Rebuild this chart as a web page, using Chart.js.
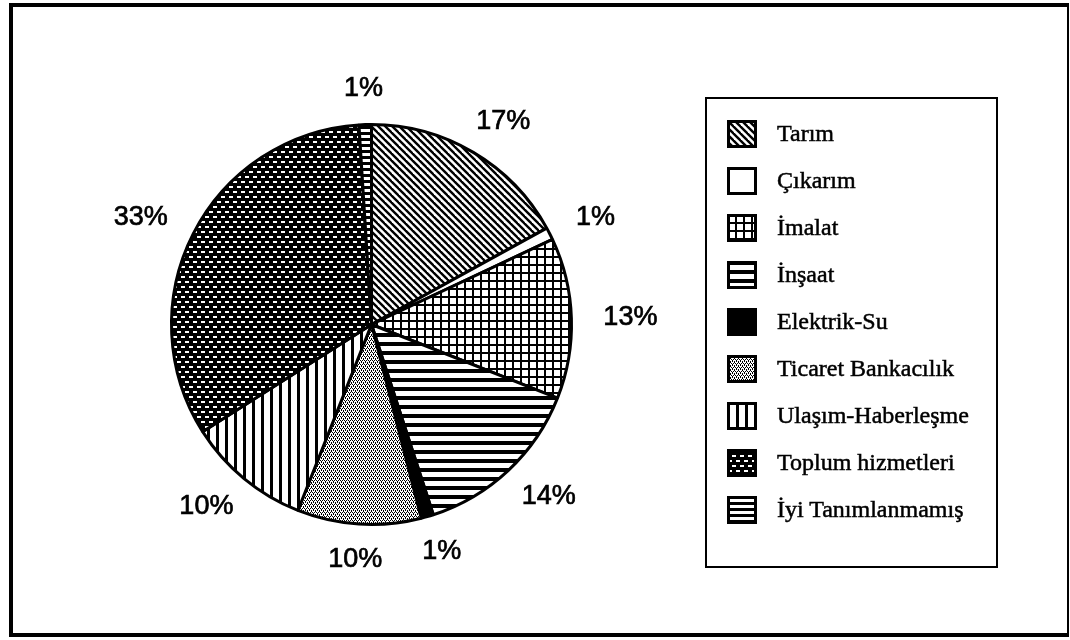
<!DOCTYPE html>
<html>
<head>
<meta charset="utf-8">
<script src="https://cdn.jsdelivr.net/npm/chart.js@4"></script>
<style>
  body { margin: 0; background: #fff; }
  #wrap { position: relative; width: 1070px; height: 640px; overflow: hidden; background: #fff; }
  #chart { position: absolute; left: 0; top: 0; }
  #frame { position: absolute; left: 9px; top: 3px; width: 1060px; height: 634px; box-sizing: border-box;
           border: 4px solid #000; border-right-width: 2px; }
  #legend { position: absolute; left: 705px; top: 97px; width: 293px; height: 471px; box-sizing: border-box;
            border: 2px solid #000; padding: 11px 0 0 20px; margin: 0; list-style: none; }
  #legend li { height: 47px; display: flex; align-items: center; color: #000;
               font-family: "Liberation Serif", "Times New Roman", serif; font-size: 24px;
               -webkit-text-stroke: 0.5px #000; }
  #legend canvas { margin-right: 20px; }
</style>
</head>
<body>
<div id="wrap">
  <canvas id="chart" width="1070" height="640"></canvas>
  <div id="frame"></div>
  <ul id="legend"></ul>
</div>
<script>
// Sektörler ve payları (%)
const categories = ['Tarım', 'Çıkarım', 'İmalat', 'İnşaat', 'Elektrik-Su',
  'Ticaret Bankacılık', 'Ulaşım-Haberleşme', 'Toplum hizmetleri', 'İyi Tanımlanmamış'];
const shares = [17, 1, 13, 14, 1, 10, 10, 33, 1];
const shareLabels = shares.map(v => v + '%');

// dolgu desenleri (her dilim için)
const fillKinds = ['diag', 'white', 'grid', 'hlines', 'black', 'dots', 'vlines', 'brick', 'hlines2'];

function makeFill(kind) {
  if (kind === 'white') return '#fff';
  if (kind === 'black') return '#000';
  const c = document.createElement('canvas');
  const g = c.getContext('2d');
  if (kind === 'diag') {
    c.width = 7; c.height = 7;
    g.fillStyle = '#fff'; g.fillRect(0, 0, 7, 7);
    g.strokeStyle = '#000'; g.lineWidth = 2.4;
    for (let x = -7; x <= 7; x += 7) {
      g.beginPath(); g.moveTo(x - 1, -1); g.lineTo(x + 8, 8); g.stroke();
    }
  } else if (kind === 'grid') {
    c.width = 8; c.height = 8;
    g.fillStyle = '#fff'; g.fillRect(0, 0, 8, 8);
    g.fillStyle = '#000'; g.fillRect(0, 0, 8, 2); g.fillRect(0, 0, 2, 8);
  } else if (kind === 'hlines') {
    c.width = 8; c.height = 9;
    g.fillStyle = '#fff'; g.fillRect(0, 0, 8, 9);
    g.fillStyle = '#000'; g.fillRect(0, 0, 8, 4);
  } else if (kind === 'hlines2') {
    c.width = 8; c.height = 6;
    g.fillStyle = '#fff'; g.fillRect(0, 0, 8, 6);
    g.fillStyle = '#000'; g.fillRect(0, 0, 8, 3);
  } else if (kind === 'vlines') {
    c.width = 9; c.height = 8;
    g.fillStyle = '#fff'; g.fillRect(0, 0, 9, 8);
    g.fillStyle = '#000'; g.fillRect(0, 0, 3, 8);
  } else if (kind === 'dots') {
    c.width = 4; c.height = 4;
    g.fillStyle = '#fff'; g.fillRect(0, 0, 4, 4);
    g.fillStyle = '#000';
    g.fillRect(0, 0, 1, 1); g.fillRect(2, 0, 1, 1); g.fillRect(1, 2, 1, 1); g.fillRect(3, 2, 1, 1);
    g.fillRect(1, 1, 1, 1); g.fillRect(3, 3, 1, 1);
  } else if (kind === 'brick') {
    c.width = 8; c.height = 10;
    g.fillStyle = '#000'; g.fillRect(0, 0, 8, 10);
    g.fillStyle = '#fff';
    g.fillRect(1, 1, 4, 2); g.fillRect(5, 6, 4, 2); g.fillRect(-3, 6, 4, 2);
  }
  return g.createPattern(c, 'repeat');
}

const fills = fillKinds.map(makeFill);

// yüzde etiketleri, dilimin ortasından dışarıya
const pctLabels = {
  id: 'pctLabels',
  afterDatasetsDraw(chart) {
    const ctx = chart.ctx;
    const meta = chart.getDatasetMeta(0);
    ctx.save();
    ctx.font = '27px "Liberation Sans", Arial, sans-serif';
    ctx.fillStyle = '#000';
    ctx.strokeStyle = '#000';
    ctx.lineWidth = 0.7;
    ctx.textAlign = 'center';
    ctx.textBaseline = 'middle';
    meta.data.forEach((arc, i) => {
      const p = arc.getProps(['x', 'y', 'startAngle', 'endAngle', 'outerRadius'], true);
      const a = (p.startAngle + p.endAngle) / 2;
      const r = p.outerRadius + 32;
      const txt = shareLabels[i];
      const tw = ctx.measureText(txt).width;
      const x = p.x + Math.cos(a) * (r + tw / 2);
      const y = p.y + Math.sin(a) * (r + 4);
      ctx.fillText(txt, x, y);
      ctx.strokeText(txt, x, y);
    });
    ctx.restore();
  }
};

let ctx = document.getElementById('chart').getContext('2d');
let myChart = new Chart(ctx, {
  type: 'pie',
  data: {
    labels: categories,
    datasets: [{
      data: shares,
      backgroundColor: fills,
      borderColor: '#000',
      borderWidth: 3
    }]
  },
  options: {
    responsive: false,
    animation: false,
    events: [],
    layout: { padding: { left: 170, right: 497, top: 123, bottom: 114 } },
    plugins: { legend: { display: false }, tooltip: { enabled: false } }
  },
  plugins: [pctLabels]
});

// açıklama kutusu
const legend = document.getElementById('legend');
categories.forEach((name, i) => {
  const li = document.createElement('li');
  const ic = document.createElement('canvas');
  ic.width = 30; ic.height = 28;
  const g = ic.getContext('2d');
  g.fillStyle = makeFill(fillKinds[i]);
  g.fillRect(0, 0, 30, 28);
  g.strokeStyle = '#000'; g.lineWidth = 3;
  g.strokeRect(1.5, 1.5, 27, 25);
  const span = document.createElement('span');
  span.textContent = name;
  li.appendChild(ic);
  li.appendChild(span);
  legend.appendChild(li);
});
</script>
</body>
</html>
